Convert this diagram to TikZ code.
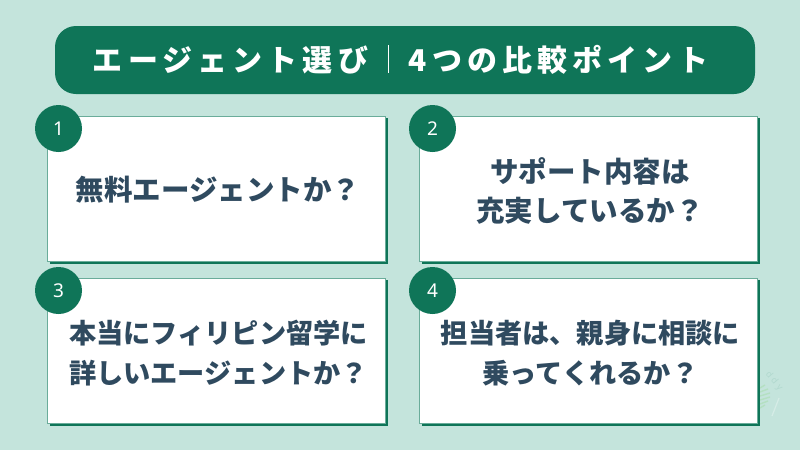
\documentclass[tikz,border=0pt]{standalone}
\usepackage{fontspec}
\newfontfamily\jpfont{Noto Sans CJK JP}
\newfontfamily\numfont{Noto Sans}
\definecolor{bggreen}{HTML}{C4E4DC}
\definecolor{darkgreen}{HTML}{0F7558}
\definecolor{slate}{HTML}{2F4A5F}
\definecolor{leafgreen}{HTML}{B4E0C2}
\tikzset{
	titletext/.style={text=white,inner sep=0pt,font=\jpfont\bfseries\fontsize{30}{30}\selectfont\addfontfeature{LetterSpace=17}},
	cardtext/.style={text=slate,align=center,inner sep=0pt,font=\jpfont\bfseries\fontsize{#1}{39.5}\selectfont},
	numtext/.style={circle,fill=darkgreen,minimum size=47pt,inner sep=0pt,text=white,font=\numfont\fontsize{19}{19}\selectfont}
}
\begin{document}
\begin{tikzpicture}[x=1pt,y=-1pt]
	\useasboundingbox (0,0) rectangle (800,450);
	\fill[bggreen] (0,0) rectangle (800,450);
	% faint mark beside the last card
	\foreach \y/\w in {388/5, 392/8, 396/10, 400/10, 404/8, 408/5}
		\draw[leafgreen,line width=1.4pt] (760,\y) -- (760+\w,\y-3);
	\draw[white,opacity=0.3,line width=1.2pt] (772,416) -- (779,398);
	\node[rotate=-50,text=darkgreen,opacity=0.1,inner sep=0pt,font=\numfont\fontsize{9}{9}\selectfont\addfontfeature{LetterSpace=30}] (mark) at (774,381) {ddy};
	\fill[darkgreen,rounded corners=21pt] (55,26) rectangle (755,94);
	\node[titletext] (t1) at (230.5,60) {エージェント選び};
	\node[titletext] (t2) at (558.5,60) {4つの比較ポイント};
	\coordinate (b1) at (388,45);
	\coordinate (b2) at (388,73);
	\draw[white,line width=0.9pt] (b1) -- (b2);
	\foreach \name/\x/\y/\cx/\num in {
		c1/47.5/116.5/58.5/1, c2/419.5/116.5/432.5/2,
		c3/47.5/278.5/58.5/3, c4/419.5/278.5/432.5/4}
	{
		\fill[darkgreen] (\x+2,\y+1) rectangle (\x+340,\y+147.2);
		\draw[fill=white,draw=darkgreen!50!bggreen,line width=0.7pt] (\x,\y) rectangle (\x+338,\y+145);
		\node[numtext] (\name) at (\cx,\y+12) {\num};
	}
	\node[cardtext=28.5] (q1) at (218,190) {無料エージェントか？};
	\node[cardtext=28.5] (q2) at (590,191) {サポート内容は\\充実しているか？};
	\node[cardtext=27.2] (q3) at (218.5,353) {本当にフィリピン留学に\\詳しいエージェントか？};
	\node[cardtext=27.2] (q4) at (590.5,353) {担当者は、親身に相談に\\乗ってくれるか？};
\end{tikzpicture}
\end{document}
